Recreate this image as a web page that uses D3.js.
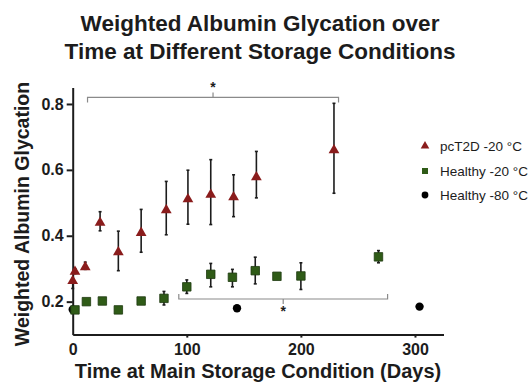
<!DOCTYPE html>
<html>
<head>
<meta charset="utf-8">
<script src="https://cdn.jsdelivr.net/npm/d3@7"></script>
<style>
  html, body { margin: 0; padding: 0; background: #fff; }
  svg { display: block; font-family: "Liberation Sans", Arial, sans-serif; }
</style>
</head>
<body>
<svg id="chart" width="531" height="387"></svg>
<script>
// Days stored, mean weighted glycation, and error-bar bounds per group
const t2dDays  = [0, 2, 11, 24, 40, 60, 82, 101, 121, 141, 161, 229];
const t2dMean  = [0.266, 0.294, 0.308, 0.443, 0.353, 0.412, 0.481, 0.514, 0.528, 0.520, 0.581, 0.663];
const t2dLow   = [0.24, 0.285, 0.298, 0.415, 0.294, 0.350, 0.403, 0.435, 0.434, 0.458, 0.515, 0.529];
const t2dHigh  = [0.27, 0.300, 0.320, 0.473, 0.414, 0.480, 0.565, 0.599, 0.631, 0.585, 0.656, 0.802];

const h20Days  = [2, 12, 26, 40, 60, 80, 100, 121, 140, 160, 179, 200, 268];
const h20Mean  = [0.175, 0.200, 0.202, 0.175, 0.202, 0.210, 0.245, 0.283, 0.274, 0.294, 0.277, 0.278, 0.336];
const h20Low   = [0.170, 0.196, 0.194, 0.165, 0.198, 0.190, 0.225, 0.245, 0.245, 0.254, 0.270, 0.237, 0.318];
const h20High  = [0.180, 0.204, 0.210, 0.182, 0.206, 0.231, 0.266, 0.316, 0.298, 0.335, 0.284, 0.318, 0.355];

const h80Days  = [0, 144, 304];
const h80Mean  = [0.176, 0.180, 0.185];

const xTicks = [0, 100, 200, 300];
const yTicks = [0.2, 0.4, 0.6, 0.8];

const seriesNames = ["pcT2D -20 °C", "Healthy -20 °C", "Healthy -80 °C"];

// Significance brackets: span in days and height on the glycation axis
const bracketStart = [13, 93];
const bracketEnd   = [233, 276];
const bracketLevel = [0.82, 0.208];

const ink = "#1c1c1c";
const red = "#8a1c1c";
const green = "#2f5b17";

const svg = d3.select("#chart");

const x = d3.scaleLinear().domain([0, 325]).range([72.7, 443.5]);
const y = d3.scaleLinear().domain([0.1, 0.85]).range([334.6, 87.5]);

// Title
svg.append("text").attr("x", 260).attr("y", 31).attr("text-anchor", "middle")
  .attr("font-size", 22.5).attr("font-weight", "bold").attr("fill", ink)
  .text("Weighted Albumin Glycation over");
svg.append("text").attr("x", 260).attr("y", 59).attr("text-anchor", "middle")
  .attr("font-size", 22.5).attr("font-weight", "bold").attr("fill", ink)
  .text("Time at Different Storage Conditions");

// Axes
const yAxis = svg.append("g").attr("transform", `translate(${x(0)},0)`)
  .call(d3.axisLeft(y).tickValues(yTicks).tickSize(6).tickSizeOuter(0).tickFormat(d3.format(".1f")));
const xAxis = svg.append("g").attr("transform", `translate(0,${y(0.1)})`)
  .call(d3.axisBottom(x).tickValues(xTicks).tickSize(3).tickSizeOuter(0).tickFormat(d3.format("d")));

[xAxis, yAxis].forEach(g => {
  g.select(".domain").attr("stroke", ink).attr("stroke-width", 2);
  g.selectAll(".tick line").attr("stroke", ink).attr("stroke-width", 2);
  g.selectAll(".tick text").attr("fill", ink).attr("font-size", 16).attr("font-weight", "bold")
    .attr("font-family", "Liberation Sans, Arial, sans-serif");
});
yAxis.selectAll(".tick text").attr("x", -9);
xAxis.selectAll(".tick text").attr("y", 9);
xAxis.selectAll(".tick").filter(d => d === 0).select("line").remove();

// Axis titles
svg.append("text").attr("x", 258).attr("y", 378).attr("text-anchor", "middle")
  .attr("font-size", 20).attr("font-weight", "bold").attr("fill", ink)
  .text("Time at Main Storage Condition (Days)");
svg.append("text").attr("transform", "translate(29,214) rotate(-90)").attr("text-anchor", "middle")
  .attr("font-size", 19.5).attr("font-weight", "bold").attr("fill", ink)
  .text("Weighted Albumin Glycation");

// Significance brackets
const br = svg.append("g").attr("stroke", "#8a8a8a").attr("stroke-width", 1.2).attr("fill", "none");
bracketStart.forEach((s, i) => {
  const yy = y(bracketLevel[i]);
  const dir = i === 0 ? 1 : -1; // end hooks point toward the data
  const x0 = x(s), x1 = x(bracketEnd[i]), xm = (x0 + x1) / 2;
  br.append("path").attr("d",
    `M${x0},${yy + 5 * dir}L${x0},${yy}L${x1},${yy}L${x1},${yy + 5 * dir}`);
  br.append("line").attr("x1", xm).attr("x2", xm).attr("y1", yy).attr("y2", yy - 5 * dir);
  svg.append("text").attr("x", xm).attr("y", i === 0 ? yy - 5 : yy + 17)
    .attr("text-anchor", "middle").attr("font-size", 14).attr("font-weight", "bold").attr("fill", ink)
    .text("*");
});

// Error bars
function errorBars(days, lo, hi) {
  const g = svg.append("g").attr("stroke", ink).attr("stroke-width", 1.6);
  days.forEach((d, i) => {
    const cx = x(d);
    g.append("line").attr("x1", cx).attr("x2", cx).attr("y1", y(lo[i])).attr("y2", y(hi[i]));
    g.append("line").attr("x1", cx - 1.5).attr("x2", cx + 1.5).attr("y1", y(lo[i])).attr("y2", y(lo[i]));
    g.append("line").attr("x1", cx - 1.5).attr("x2", cx + 1.5).attr("y1", y(hi[i])).attr("y2", y(hi[i]));
  });
}
errorBars(t2dDays, t2dLow, t2dHigh);
errorBars(h20Days, h20Low, h20High);

const tri = d3.symbol().type(d3.symbolTriangle);
const sq = d3.symbol().type(d3.symbolSquare);
const circ = d3.symbol().type(d3.symbolCircle);

// Healthy -80 °C
svg.append("g").selectAll("path").data(h80Days).join("path")
  .attr("transform", (d, i) => `translate(${x(d)},${y(h80Mean[i])})`)
  .attr("d", circ.size(55)).attr("fill", "#000");

// Healthy -20 °C
svg.append("g").selectAll("path").data(h20Days).join("path")
  .attr("transform", (d, i) => `translate(${x(d)},${y(h20Mean[i])})`)
  .attr("d", sq.size(72)).attr("fill", green).attr("stroke", "#1e3a10").attr("stroke-width", 0.8);

// pcT2D -20 °C
svg.append("g").selectAll("path").data(t2dDays).join("path")
  .attr("transform", (d, i) => `translate(${x(d)},${y(t2dMean[i]) + 1})`)
  .attr("d", tri.size(50)).attr("fill", red);

// Legend
const legendY = [146, 171, 195];
const legendShapes = [tri.size(32), sq.size(36), circ.size(36)];
const legendColors = [red, green, "#000"];
const lg = svg.append("g");
seriesNames.forEach((name, i) => {
  lg.append("path").attr("transform", `translate(425,${legendY[i]})`)
    .attr("d", legendShapes[i]).attr("fill", legendColors[i]);
  lg.append("text").attr("x", 440).attr("y", legendY[i] + 5)
    .attr("font-size", 13.5).attr("fill", ink).text(name);
});
</script>
</body>
</html>
